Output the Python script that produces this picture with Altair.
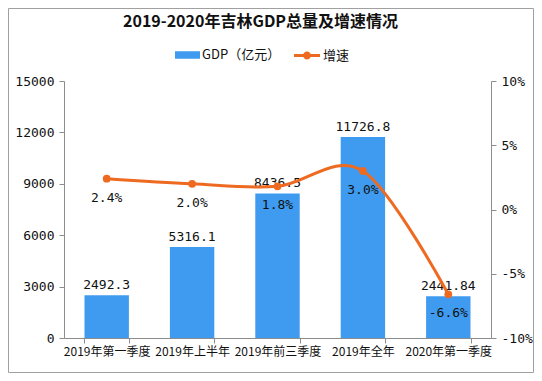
import altair as alt
import pandas as pd

categories = ["2019年第一季度", "2019年上半年", "2019年前三季度", "2019年全年", "2020年第一季度"]
gdp = [2492.3, 5316.1, 8436.5, 11726.8, 2441.84]
growth = [2.4, 2.0, 1.8, 3.0, -6.6]
left_ticks = [0, 3000, 6000, 9000, 12000, 15000]
right_ticks = [-10, -5, 0, 5, 10]

df = pd.DataFrame({
    "cat": categories,
    "gdp": gdp,
    "gdp_label": [str(v) for v in gdp],
    "growth": growth,
    "growth_label": [f"{v:.1f}%" for v in growth],
    "s1": ["GDP（亿元）"] * len(categories),
    "s2": ["增速"] * len(categories),
})

BLUE = "#3E9BEF"
ORANGE = "#EE6A21"
GRAY = "#8C8C8C"
MONO = "DejaVu Sans Mono"
CJK = "Noto Sans CJK SC"

x = alt.X("cat:N", sort=categories, title=None,
          scale=alt.Scale(paddingInner=0.48, paddingOuter=0.24),
          axis=alt.Axis(labelAngle=0, labelFont=CJK, labelFontSize=12, labelColor="#111",
                        domainColor=GRAY, tickColor=GRAY, tickSize=5, tickBand="extent",
                        labelPadding=3))

yl = alt.Y("gdp:Q", title=None,
           scale=alt.Scale(domain=[0, 15000]),
           axis=alt.Axis(values=left_ticks, format="d", grid=False, labelFont=MONO, labelFontSize=13,
                         labelColor="#111", domainColor=GRAY, tickColor=GRAY, tickSize=5,
                         labelPadding=5))

yr = alt.Y("growth:Q", title=None,
           scale=alt.Scale(domain=[-10, 10]),
           axis=alt.Axis(orient="right", values=right_ticks, grid=False, labelFont=MONO,
                         labelFontSize=13, labelColor="#111", domainColor=GRAY, tickColor=GRAY,
                         tickSize=5, labelPadding=5, labelExpr="datum.value + '%'"))

bar_path = "M-1,-0.3h2v0.6h-2Z"
line_path = "M-1,-0.115h2v0.23h-2Z M0.31,0A0.31,0.31,0,1,1,-0.31,0A0.31,0.31,0,1,1,0.31,0Z"

frame = alt.Chart(alt.Data(values=[{"f": 1}])).mark_rect(
    fill=None, stroke="#A0A0A0", strokeWidth=1
).encode(
    x=alt.value(-55.5), x2=alt.value(427 + 42.5),
    y=alt.value(-72.5), y2=alt.value(257 + 34.5),
)

bars = alt.Chart(df).mark_bar().encode(
    x=x, y=yl,
    color=alt.Color("s1:N", title=None,
                    scale=alt.Scale(domain=["GDP（亿元）"], range=[BLUE]),
                    legend=alt.Legend(orient="none", legendX=111, legendY=-38.5,
                                      symbolType=bar_path, symbolSize=625, symbolStrokeWidth=0,
                                      labelOffset=2, labelFont=CJK, labelFontSize=13,
                                      labelColor="#111", padding=0)),
)
bar_text = alt.Chart(df).mark_text(baseline="bottom", dy=-3, font=MONO, fontSize=13,
                                   color="#111").encode(x=x, y=yl, text="gdp_label:N")

line = alt.Chart(df).mark_line(color=ORANGE, strokeWidth=3, interpolate="cardinal").encode(x=x, y=yr)
pts = alt.Chart(df).mark_point(filled=True, size=60, opacity=1).encode(
    x=x, y=yr,
    color=alt.Color("s2:N", title=None,
                    scale=alt.Scale(domain=["增速"], range=[ORANGE]),
                    legend=alt.Legend(orient="none", legendX=230, legendY=-38.5,
                                      symbolType=line_path, symbolSize=676, symbolStrokeWidth=0,
                                      labelOffset=3, labelFont=CJK, labelFontSize=13,
                                      labelColor="#111", padding=0)),
)
pct_text = alt.Chart(df).mark_text(baseline="middle", dy=19, font=MONO, fontSize=13,
                                   color="#111").encode(x=x, y=yr, text="growth_label:N")

left_layer = alt.layer(bars, bar_text)
right_layer = alt.layer(line, pts, pct_text)

chart = alt.layer(left_layer, right_layer, frame).resolve_scale(
    y="independent", color="independent"
).properties(
    width=427, height=257,
    autosize=alt.AutoSizeParams(type="none"),
    padding={"left": 56, "top": 73, "right": 43, "bottom": 35},
    title=alt.TitleParams("2019-2020年吉林GDP总量及增速情况", font=CJK, fontSize=16,
                          fontWeight="bold", color="#111", anchor="middle", offset=-22, dx=-17),
    background="white",
).configure_view(stroke=None)

chart.save("out.html", embed_options={"renderer": "svg", "actions": False})
